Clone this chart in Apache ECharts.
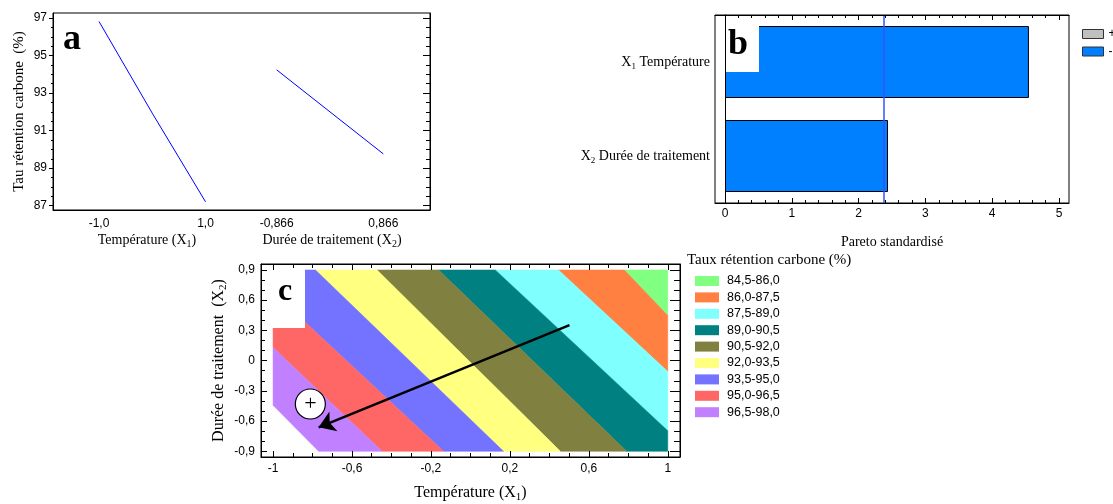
<!DOCTYPE html>
<html><head><meta charset="utf-8">
<script src="https://cdn.jsdelivr.net/npm/echarts@6/dist/echarts.min.js"></script>
<style>html,body{margin:0;padding:0;background:#fff}#c{width:1113px;height:504px}</style>
</head><body><div id="c"></div>
<script>
// ---------- Panel a : main effects ----------
const effX1 = [-1, 0, 1];
const effY1 = [96.82, 91.93, 87.21];
const effX2 = [-0.866, 0, 0.866];
const effY2 = [94.24, 92.0, 89.76];
const aYTicks = [87, 89, 91, 93, 95, 97];
const aX1Ticks = [-1, 1];
const aX2Ticks = [-0.866, 0.866];
// ---------- Panel b : Pareto ----------
const paretoCats = ['X2 Durée de traitement', 'X1 Température'];
const paretoVals = [2.44, 4.55];
const paretoCrit = 2.37;
const bTicks = [0, 1, 2, 3, 4, 5];
// ---------- Panel c : contour ----------
const cXTicks = [-1, -0.6, -0.2, 0.2, 0.6, 1];
const cYTicks = [-0.9, -0.6, -0.3, 0, 0.3, 0.6, 0.9];
const bandNames = ['84,5-86,0', '86,0-87,5', '87,5-89,0', '89,0-90,5', '90,5-92,0', '92,0-93,5', '93,5-95,0', '95,0-96,5', '96,5-98,0'];
const bandColors = ['#80FF80', '#FF8040', '#80FFFF', '#008080', '#808040', '#FFFF80', '#7373FF', '#FF6666', '#C080FF'];
// contour lines (86,0 ... 98,0), two points read on each
const levelLines = [
  [[0.78, 0.9], [1, 0.447]],
  [[0.446, 0.9], [1, -0.108]],
  [[0.126, 0.9], [1, -0.695]],
  [[-0.161, 0.9], [0.792, -0.9]],
  [[-0.473, 0.9], [0.456, -0.9]],
  [[-0.785, 0.9], [0.168, -0.9]],
  [[-0.836, 0.38], [-0.136, -0.9]],
  [[-1, 0.13], [-0.448, -0.9]],
  [[-1, -0.443], [-0.769, -0.9]]
];
const domainX = [-1, 1];
const domainY = [-0.9, 0.9];
const optimum = [-0.811, -0.43];
const pathArrow = [[0.502, 0.352], [-0.769, -0.662]];

const FS = 'Liberation Sans, Arial, sans-serif';
const FSERIF = 'Liberation Serif, Times New Roman, serif';

function comma(d) { return v => (d == null ? String(+(+v).toFixed(3)) : (+v).toFixed(d)).replace('.', ','); }
function steps(a, b, st, majors) {
  const out = [];
  for (let v = a; v <= b + 1e-9; v += st) {
    const r = +v.toFixed(4);
    if (!majors.some(m => Math.abs(m - r) < 1e-6)) out.push(r);
  }
  return out;
}
function axis(gridIndex, position, min, max, o) {
  return Object.assign({
    type: 'value', gridIndex, position, min, max, z: 10,
    axisLine: { show: !!o.line, onZero: false, lineStyle: { color: '#000', width: 1 } },
    axisTick: o.ticks ? { show: true, inside: o.inside !== false, length: o.len || 5, customValues: o.ticks, lineStyle: { color: '#000', width: 1 } } : { show: false },
    axisLabel: o.labels ? { show: true, customValues: o.labels, formatter: o.fmt, margin: o.margin, color: '#000', fontSize: 12, fontFamily: FS } : { show: false },
    splitLine: { show: false }
  }, o.extra || {});
}
const richSub = (n, s) => ({
  n: { fontSize: n, fontFamily: FSERIF, color: '#000', fill: '#000', lineHeight: n + 4, verticalAlign: 'middle' },
  s: { fontSize: s, fontFamily: FSERIF, color: '#000', fill: '#000', lineHeight: n + 4, verticalAlign: 'bottom' }
});

// geometry: clip domain by half planes of contour lines
function clip(poly, L, s) {
  const [a, b] = L;
  const side = p => ((b[0] - a[0]) * (p[1] - a[1]) - (b[1] - a[1]) * (p[0] - a[0])) * s;
  const out = [];
  for (let i = 0; i < poly.length; i++) {
    const p = poly[i], q = poly[(i + 1) % poly.length];
    const sp = side(p), sq = side(q);
    if (sp >= 0) out.push(p);
    if ((sp >= 0) !== (sq >= 0)) {
      const t = sp / (sp - sq);
      out.push([p[0] + t * (q[0] - p[0]), p[1] + t * (q[1] - p[1])]);
    }
  }
  return out;
}
function urSign(L) {
  const [a, b] = L, p = [10, 10];
  return Math.sign((b[0] - a[0]) * (p[1] - a[1]) - (b[1] - a[1]) * (p[0] - a[0]));
}
const domainPoly = [[domainX[0], domainY[0]], [domainX[1], domainY[0]], [domainX[1], domainY[1]], [domainX[0], domainY[1]]];
const bandPolys = bandNames.map((n, j) => {
  let poly = clip(domainPoly, levelLines[j], urSign(levelLines[j]));
  if (j > 0) poly = clip(poly, levelLines[j - 1], -urSign(levelLines[j - 1]));
  return poly;
});

// axis ranges
const aY = [86.77, 97.27];
const aX1 = [-1.864, 5.216];
const aX2 = [-4.498, 1.624];
const bX = [-0.15, 5.15];
const cX = [-1.061, 1.062];
const cY = [-0.956, 0.959];

const aYMinor = steps(87, 97, 0.5, aYTicks);
const bMinor = steps(0, 5, 0.2, bTicks);
const cXMinor = steps(-1, 1, 0.1, cXTicks);
const cYMinor = steps(-0.9, 0.9, 0.1, cYTicks);

const xAxis = [
  axis(0, 'bottom', aX1[0], aX1[1], { line: true, labels: aX1Ticks, fmt: comma(1), margin: 8 }),
  axis(0, 'bottom', aX2[0], aX2[1], { labels: aX2Ticks, fmt: comma(3), margin: 8 }),
  axis(1, 'bottom', bX[0], bX[1], { line: true, labels: bTicks, fmt: comma(), margin: 5, ticks: bTicks, len: 5,
    extra: { name: 'Pareto standardisé', nameLocation: 'middle', nameGap: 32, nameTextStyle: { fontSize: 14, fontFamily: FSERIF, color: '#000' } } }),
  axis(1, 'bottom', bX[0], bX[1], { ticks: bMinor, len: 3 }),
  axis(1, 'top', bX[0], bX[1], { line: true, ticks: bTicks, len: 5 }),
  axis(1, 'top', bX[0], bX[1], { ticks: bMinor, len: 3 }),
  axis(2, 'bottom', cX[0], cX[1], { line: true, labels: cXTicks, fmt: comma(), margin: 6, ticks: cXTicks, len: 6,
    extra: { name: '{n|Température (X}{s|1}{n|)}', nameLocation: 'middle', nameGap: 26, nameTextStyle: { rich: richSub(16, 11) } } }),
  axis(2, 'bottom', cX[0], cX[1], { ticks: cXMinor, len: 4 }),
  axis(2, 'top', cX[0], cX[1], { line: true, ticks: cXTicks, len: 6 }),
  axis(2, 'top', cX[0], cX[1], { ticks: cXMinor, len: 4 })
];
const yAxis = [
  axis(0, 'left', aY[0], aY[1], { line: true, labels: aYTicks, fmt: comma(), margin: 6, ticks: aYTicks, inside: false, len: 4,
    extra: { name: 'Tau rétention carbone  (%)', nameLocation: 'middle', nameGap: 26, nameTextStyle: { fontSize: 15, fontFamily: FSERIF, color: '#000' } } }),
  axis(0, 'left', aY[0], aY[1], { ticks: aYMinor, inside: false, len: 2 }),
  axis(0, 'right', aY[0], aY[1], { line: true, ticks: aYTicks, len: 7 }),
  axis(0, 'right', aY[0], aY[1], { ticks: aYMinor, len: 4 }),
  {
    type: 'category', gridIndex: 1, position: 'left', data: paretoCats, z: 10,
    axisLine: { show: true, lineStyle: { color: '#000', width: 1 } },
    axisTick: { show: false },
    splitLine: { show: false },
    axisLabel: {
      margin: 5,
      formatter: v => v.replace(/^X(\d) (.*)$/, '{n|X}{s|$1}{n| $2}'),
      rich: richSub(14, 9)
    }
  },
  axis(2, 'left', cY[0], cY[1], { line: true, labels: cYTicks, fmt: comma(), margin: 6, ticks: cYTicks, len: 6,
    extra: { name: '{n|Durée de traitement  (X}{s|2}{n|)}', nameLocation: 'middle', nameGap: 32, nameTextStyle: { rich: richSub(16, 11) } } }),
  axis(2, 'left', cY[0], cY[1], { ticks: cYMinor, len: 4 }),
  axis(2, 'right', cY[0], cY[1], { line: true, ticks: cYTicks, len: 10 }),
  axis(2, 'right', cY[0], cY[1], { ticks: cYMinor, len: 6 })
];

const series = [
  { type: 'line', name: 'X1', xAxisIndex: 0, yAxisIndex: 0, data: effX1.map((x, i) => [x, effY1[i]]),
    showSymbol: false, symbol: 'none', lineStyle: { color: '#0000FF', width: 1 }, silent: true },
  { type: 'line', name: 'X2', xAxisIndex: 1, yAxisIndex: 0, data: effX2.map((x, i) => [x, effY2[i]]),
    showSymbol: false, symbol: 'none', lineStyle: { color: '#0000FF', width: 1 }, silent: true },
  { type: 'bar', name: '-', xAxisIndex: 2, yAxisIndex: 4, stack: 'p', data: paretoVals, barWidth: 72,
    itemStyle: { color: '#0080FF', borderColor: '#000', borderWidth: 1 }, silent: true,
    markLine: { silent: true, symbol: 'none', label: { show: false }, lineStyle: { color: '#3355FF', width: 1.5, type: 'solid' },
      data: [{ xAxis: paretoCrit }] } },
  { type: 'bar', name: '+', xAxisIndex: 2, yAxisIndex: 4, stack: 'p', data: [], barWidth: 72,
    itemStyle: { color: '#C0C0C0', borderColor: '#000', borderWidth: 1 } }
];
bandNames.forEach((n, j) => {
  series.push({
    type: 'custom', name: n, xAxisIndex: 6, yAxisIndex: 5, z: 2, silent: true, clip: false,
    itemStyle: { color: bandColors[j] }, data: [[0, 0]],
    renderItem: (params, api) => ({
      type: 'polygon',
      shape: { points: bandPolys[j].map(p => api.coord(p)) },
      style: { fill: bandColors[j], stroke: bandColors[j], lineWidth: 0.5 }
    })
  });
});
series.push({
  type: 'lines', coordinateSystem: 'cartesian2d', xAxisIndex: 6, yAxisIndex: 5, z: 3, silent: true,
  data: [{ coords: pathArrow }], symbol: ['none', 'arrow'], symbolSize: 16,
  lineStyle: { color: '#000', width: 2.5, opacity: 1, curveness: 0 }
});
series.push({
  type: 'scatter', xAxisIndex: 6, yAxisIndex: 5, z: 4, silent: true, data: [optimum],
  symbol: 'circle', symbolSize: 30,
  itemStyle: { color: '#fff', borderColor: '#000', borderWidth: 1.2, opacity: 1 },
  label: { show: true, position: 'inside', formatter: '+', fontSize: 22, color: '#000', fontFamily: FSERIF, padding: [3, 0, 0, 0] }
});

const txt = (text, x, y, font, align, extra) => ({
  type: 'text', x, y, z: 11, silent: true,
  style: Object.assign({ text, font, fill: '#000', align: align || 'center', verticalAlign: 'middle', textAlign: align || 'center', textVerticalAlign: 'middle' }, extra || {})
});

const option = {
  animation: false,
  backgroundColor: '#fff',
  grid: [
    { left: 53, top: 13, width: 377, height: 197, show: true, borderColor: '#000', borderWidth: 1, backgroundColor: 'transparent' },
    { left: 715, top: 15, width: 354, height: 188, show: true, borderColor: '#000', borderWidth: 1, backgroundColor: 'transparent' },
    { left: 261, top: 264, width: 419, height: 196, show: true, borderColor: '#000', borderWidth: 1, backgroundColor: 'transparent' }
  ],
  xAxis, yAxis, series,
  legend: [
    { data: ['+', '-'], left: 1082, top: 27, orient: 'vertical', itemWidth: 21, itemHeight: 9, itemGap: 3.5, icon: 'rect',
      padding: 0, selectedMode: false, itemStyle: { borderColor: '#333', borderWidth: 1 },
      textStyle: { fontSize: 12, color: '#000', fontFamily: FS, lineHeight: 14 } },
    { data: bandNames, left: 695, top: 273, orient: 'vertical', itemWidth: 24, itemHeight: 10, itemGap: 0.4, icon: 'rect',
      padding: 0, selectedMode: false, itemStyle: { borderWidth: 0 },
      textStyle: { fontSize: 12.5, color: '#000', fontFamily: FS, lineHeight: 16, padding: [0, 0, 0, 3] } }
  ],
  graphic: [
    { type: 'rect', z: 5, silent: true, shape: { x: 716, y: 16, width: 43, height: 56 }, style: { fill: '#fff' } },
    { type: 'rect', z: 5, silent: true, shape: { x: 261.5, y: 264.5, width: 43.5, height: 63.5 }, style: { fill: '#fff' } },
    txt('a', 72, 40, 'bold 36px ' + FSERIF),
    txt('b', 738, 45, 'bold 36px ' + FSERIF),
    txt('c', 285, 292, 'bold 32px ' + FSERIF),
    txt('{n|Température (X}{s|1}{n|)}', 147, 240, '14px ' + FSERIF, 'center', { rich: richSub(14, 10) }),
    txt('{n|Durée de traitement (X}{s|2}{n|)}', 332, 240, '14px ' + FSERIF, 'center', { rich: richSub(14, 10) }),
    txt('Taux rétention carbone (%)', 687, 260, '15px ' + FSERIF, 'left')
  ]
};
const chart = echarts.init(document.getElementById('c'), null, { renderer: 'canvas' });
chart.setOption(option);
</script>
</body></html>
